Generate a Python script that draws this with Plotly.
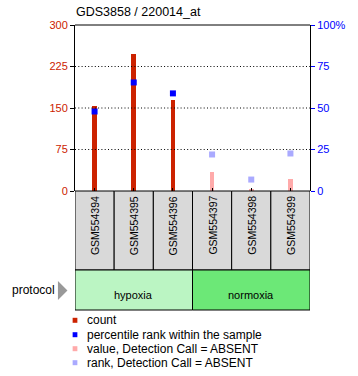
import plotly.graph_objects as go

# ---- data ----
title = "GDS3858 / 220014_at"
samples = ["GSM554394", "GSM554395", "GSM554396", "GSM554397", "GSM554398", "GSM554399"]
detection = ["P", "P", "P", "A", "A", "A"]
count_values = [153, 248, 165, 34, 3.6, 21]
percentile_ranks = [47.9, 65.4, 58.8, 22.0, 6.9, 22.6]
protocol_groups = ["hypoxia", "normoxia"]
protocol_sizes = [3, 3]
left_ticks = [0, 75, 150, 225, 300]
right_ticks = [0, 25, 50, 75, 100]
right_ticktext = ["0", "25", "50", "75", "100%"]
legend_labels = ["count", "percentile rank within the sample",
                 "value, Detection Call = ABSENT", "rank, Detection Call = ABSENT"]

# ---- styles ----
RED = "#cc2200"
BLUE = "#0000ff"
PINK = "#ffaaaa"
LAV = "#aaaaff"
BOXGRAY = "#d9d9d9"
PROTO_COLORS = ["#bbf5c3", "#6ce877"]
FONT = "Liberation Sans, Arial, sans-serif"

W, H = 358, 376
L, R, T, B = 75, 35, 25, 185
PW = W - L - R
PH = H - T - B


def py(p):  # pixel y -> paper y
    return (H - B - p) / PH


def px(p):  # pixel x -> paper x
    return (p - L) / PW


x = list(range(len(samples)))
pres = [d == "P" for d in detection]

fig = go.Figure()
fig.add_trace(go.Bar(x=[i for i in x if pres[i]], y=[count_values[i] for i in x if pres[i]],
                     width=0.12, marker=dict(color=RED, line=dict(width=0)), showlegend=False))
fig.add_trace(go.Bar(x=[i for i in x if not pres[i]], y=[count_values[i] for i in x if not pres[i]],
                     width=0.12, marker=dict(color=PINK, line=dict(width=0)), showlegend=False))
fig.add_trace(go.Scatter(x=[i for i in x if pres[i]], y=[percentile_ranks[i] for i in x if pres[i]],
                         yaxis="y2", mode="markers",
                         marker=dict(symbol="square", size=6, color=BLUE), showlegend=False))
fig.add_trace(go.Scatter(x=[i for i in x if not pres[i]], y=[percentile_ranks[i] for i in x if not pres[i]],
                         yaxis="y2", mode="markers",
                         marker=dict(symbol="square", size=6, color=LAV), showlegend=False))

shapes = []
# dotted grid
for v in left_ticks[1:-1]:
    shapes.append(dict(type="line", xref="paper", yref="y", x0=0, x1=1, y0=v, y1=v,
                       line=dict(color="black", width=1, dash="1px,2.3px")))
# top border
shapes.append(dict(type="line", xref="paper", yref="paper", x0=0, x1=1, y0=1, y1=1,
                   line=dict(color="black", width=1)))

annotations = []
# sample boxes
box_top, box_bot = py(H - B), py(270)
for i, s in enumerate(samples):
    shapes.append(dict(type="rect", xref="x", yref="paper", x0=i - 0.5, x1=i + 0.5,
                       y0=box_bot, y1=box_top, fillcolor=BOXGRAY,
                       line=dict(color="black", width=1)))
    annotations.append(dict(x=i, y=py(194), xref="x", yref="paper", text=s, textangle=-90,
                            showarrow=False, yanchor="top", xanchor="center",
                            font=dict(size=10.5, color="black", family=FONT)))
# protocol band
start = 0
for g, n, c in zip(protocol_groups, protocol_sizes, PROTO_COLORS):
    shapes.append(dict(type="rect", xref="x", yref="paper", x0=start - 0.5, x1=start + n - 0.5,
                       y0=py(310), y1=py(270), fillcolor=c, line=dict(color="black", width=1)))
    annotations.append(dict(x=start + (n - 1) / 2, y=py(295), xref="x", yref="paper", text=g,
                            showarrow=False, xanchor="center", yanchor="middle",
                            font=dict(size=11, color="black", family=FONT)))
    start += n

annotations.append(dict(x=px(6), y=py(290), xref="paper", yref="paper", text="protocol",
                        showarrow=False, xanchor="left", yanchor="middle",
                        font=dict(size=12, color="black", family=FONT)))
shapes.append(dict(type="path", xref="paper", yref="paper",
                   path=f"M {px(57)} {py(281)} L {px(67)} {py(290.5)} L {px(57)} {py(300)} Z",
                   fillcolor="#999999", line=dict(width=0)))

# title
annotations.append(dict(x=px(74), y=py(12), xref="paper", yref="paper", text=title,
                        showarrow=False, xanchor="left", yanchor="middle",
                        font=dict(size=12.5, color="black", family=FONT)))

# legend
leg_colors = [RED, BLUE, PINK, LAV]
leg_y = [320.3, 334.7, 348.7, 362.7]
for lab, col, yy in zip(legend_labels, leg_colors, leg_y):
    shapes.append(dict(type="rect", xref="paper", yref="paper",
                       x0=px(72.5), x1=px(77.5), y0=py(yy + 2.5), y1=py(yy - 2.5),
                       fillcolor=col, line=dict(width=0)))
    annotations.append(dict(x=px(85.5), y=py(yy), xref="paper", yref="paper", text=lab,
                            showarrow=False, xanchor="left", yanchor="middle",
                            font=dict(size=12, color="black", family=FONT)))

fig.update_layout(
    width=W, height=H,
    margin=dict(l=L, r=R, t=T, b=B, pad=0),
    paper_bgcolor="white", plot_bgcolor="white",
    barmode="overlay", bargap=0,
    xaxis=dict(range=[-0.5, len(samples) - 0.5], showticklabels=False, showgrid=False,
               zeroline=False, ticks="inside", ticklen=3, tickcolor="black",
               tickvals=x, showline=False),
    yaxis=dict(range=[0, 300], tickvals=left_ticks, showgrid=False, zeroline=False,
               showline=True, linecolor="black", linewidth=1, ticks="outside", ticklen=4,
               tickcolor="black", tickfont=dict(size=11, color=RED, family=FONT)),
    yaxis2=dict(range=[0, 100], tickvals=right_ticks, ticktext=right_ticktext,
                overlaying="y", side="right", showgrid=False, zeroline=False,
                showline=True, linecolor="black", linewidth=1, ticks="outside", ticklen=4,
                tickcolor=BLUE, tickfont=dict(size=11, color=BLUE, family=FONT)),
    shapes=shapes, annotations=annotations, showlegend=False,
)

fig.write_html("out.html", config={"displayModeBar": False},
               post_script="document.body.style.margin='0';")
